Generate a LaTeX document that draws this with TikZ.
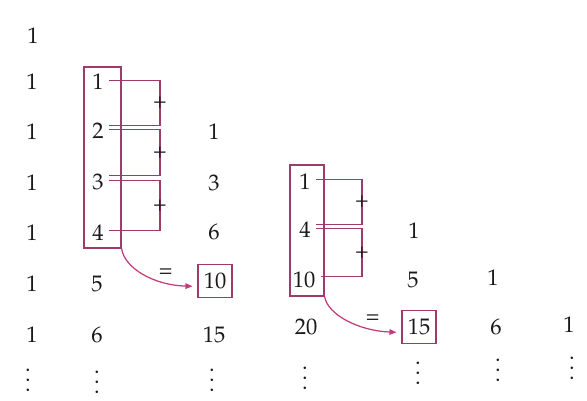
\documentclass[tikz,border=0pt]{standalone}
\usepackage[T1]{fontenc}
\usepackage{mathpazo}
\usepackage{xcolor}
\usepackage{tikz}
\usetikzlibrary{arrows.meta,calc,fit}
\definecolor{plum}{HTML}{A0396C}
\definecolor{rose}{HTML}{C43A7B}
\definecolor{ink}{HTML}{1A1A1A}
\newcommand\tridots{\vbox{\baselineskip=5.7pt\lineskiplimit=0pt\hbox{.}\hbox{.}\hbox{.}}}
\tikzset{
  num/.style={inner sep=0pt,text=ink,font=\fontsize{12.8}{14}\selectfont},
  frame/.style={draw=plum,line width=.7pt,inner sep=0pt},
  hibox/.style={draw=plum,line width=.7pt,minimum width=.68cm,minimum height=.66cm,inner sep=0pt},
  link/.style={draw=plum,line width=.6pt},
  plus/.style={num},
  eq/.style={num,yshift=5.7pt},
  sumarrow/.style={draw=rose,line width=.7pt,-{Triangle[length=4pt,width=3.2pt]}},
}

\begin{document}
\begin{tikzpicture}[x=0.02cm,y=-0.02cm]
  \fill[white] (0,0) rectangle (587,400);
  \useasboundingbox (0,0) rectangle (587,400);
  \foreach \id/\x/\y/\v in {00/33/36/1,
      10/32/82/1, 11/98/82/1,
      20/32/132/1, 21/98/131/2, 22/214/132/1,
      30/32/182.5/1, 31/98/182/3, 32/214/182.5/3, 33/305/181.5/1,
      40/32/232.5/1, 41/98/232.5/4, 42/214/231.5/6, 43/305/230/4, 44/414/231/1,
      50/32/284/1, 51/97/284/5, 52/215/281/10, 53/304/280/10, 54/413/280/5, 55/493/278/1,
      60/32/335/1, 61/97/335/6, 62/214/335/15, 63/306/327/20, 64/419/327/15, 65/496/326.5/6, 66/569/325/1}
    \node[num] (n\id) at (\x,\y) {\v};
  \foreach \c/\x/\y in {0/28/380,1/97/382,2/212/380,3/305/378,4/418/373,5/498/370,6/572/368}
    \node[num] (d\c) at (\x,\y) {\tridots};

  \node[frame,fit={($(n11)+(-14,-15)$) ($(n41)+(23,15.5)$)}] (lbox) {};
  \node[frame,fit={($(n33)+(-15,-16.5)$) ($(n53)+(20,16)$)}] (rbox) {};
  \node[hibox] (b10) at (n52) {};
  \node[hibox] (b15) at (n64) {};

  \coordinate (rail1) at (160,0);
  \coordinate (rail2) at (362,0);
  \foreach \a/\b/\up/\r in {11/21/3.1pt/rail1, 21/31/3.6pt/rail1, 31/41/1pt/rail1,
                            33/43/3.4pt/rail2, 43/53/1.9pt/rail2} {
    \coordinate (s) at ([xshift=3pt,yshift=.9pt]n\a.east);
    \coordinate (e) at ([xshift=3pt,yshift=\up]n\b.east);
    \draw[link] (s) -- (s -| \r) -- node[plus] {+} (e -| \r) -- (e);
  }

  \draw[sumarrow] (lbox.south east) .. controls +(3,20) and +(-38,-1) .. ([xshift=-2.8pt,yshift=-3pt]b10.west)
    node[eq,pos=.75] {=};
  \draw[sumarrow] (rbox.south east) .. controls +(3,18) and +(-38,-1.5) .. ([xshift=-2.8pt,yshift=-3pt]b15.west)
    node[eq,pos=.78] {=};
\end{tikzpicture}
\end{document}
